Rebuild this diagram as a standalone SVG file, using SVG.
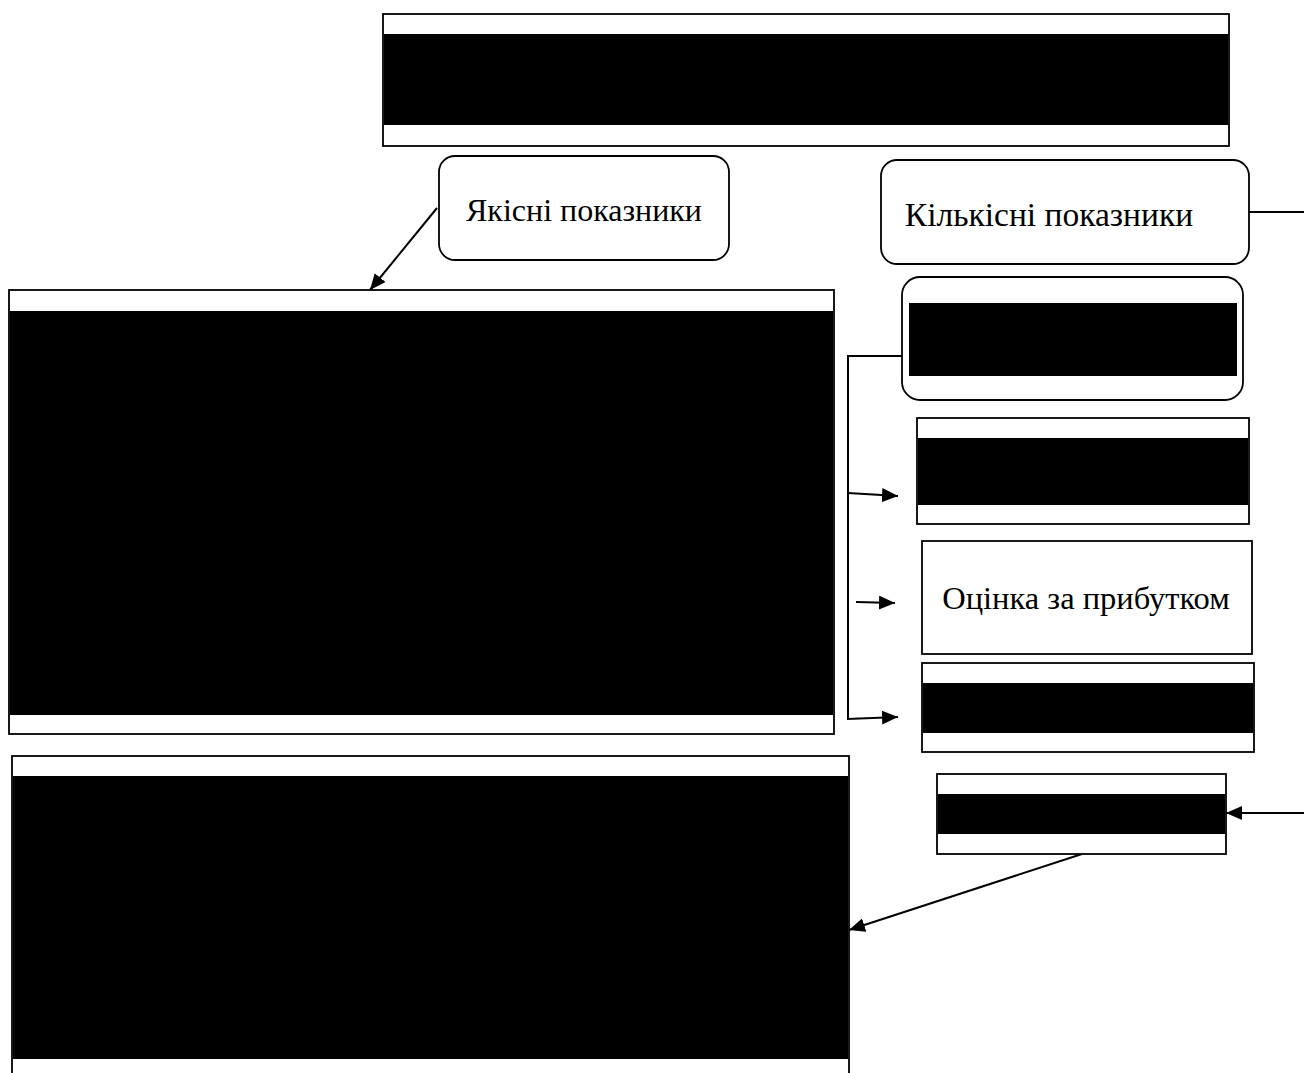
<svg xmlns="http://www.w3.org/2000/svg" width="1304" height="1073" viewBox="0 0 1304 1073">
<defs>
<marker id="ah2" viewBox="0 0 16 14" refX="16" refY="7" markerWidth="16" markerHeight="14" markerUnits="userSpaceOnUse" orient="auto"><path d="M0,0 L16,7 L0,14 z" fill="#000"/></marker>
</defs>
<style>
.box{fill:#fff;stroke:#000;stroke-width:1.8}
.bar{fill:#000}
.t{font-family:"Liberation Serif","Times New Roman",serif;font-size:32px;fill:#000;text-anchor:middle}
.ln{fill:none;stroke:#000;stroke-width:2}
</style>
<rect width="1304" height="1073" fill="#fff"/>
<g id="top"><rect class="box" x="383" y="14" width="846" height="132"/><rect class="bar" x="384" y="34" width="844" height="91"/></g>
<g id="qual"><rect class="box" x="439" y="156" width="290" height="104" rx="16"/><text class="t" x="584" y="221">Якісні показники</text></g>
<g id="quant"><rect class="box" x="881" y="160" width="368" height="104" rx="16"/><text class="t" x="1049" y="226" style="font-size:33.5px">Кількісні показники</text></g>
<g id="big1"><rect class="box" x="9" y="290" width="825" height="444"/><rect class="bar" x="10" y="311" width="823" height="404"/></g>
<g id="r2"><rect class="box" x="902" y="277" width="341" height="123" rx="18"/><rect class="bar" x="909" y="303" width="328" height="73"/></g>
<g id="r3"><rect class="box" x="917" y="418" width="332" height="106"/><rect class="bar" x="918" y="438" width="330" height="67"/></g>
<g id="profit"><rect class="box" x="922" y="541" width="330" height="113"/><text class="t" x="1086" y="609" style="font-size:32.5px">Оцінка за прибутком</text></g>
<g id="r5"><rect class="box" x="922" y="663" width="332" height="89"/><rect class="bar" x="923" y="683" width="330" height="50"/></g>
<g id="r6"><rect class="box" x="937" y="774" width="289" height="80"/><rect class="bar" x="938" y="794" width="287" height="40"/></g>
<g id="big2"><rect class="box" x="12" y="756" width="837" height="330"/><rect class="bar" x="13" y="776" width="835" height="283"/></g>
<g id="connectors">
<line class="ln" x1="437" y1="208" x2="370" y2="290" marker-end="url(#ah2)"/>
<line class="ln" x1="1249" y1="212" x2="1304" y2="212"/>
<polyline class="ln" points="902,356 848,356 848,719"/>
<line class="ln" x1="848" y1="493" x2="898" y2="496" marker-end="url(#ah2)"/>
<line class="ln" x1="856" y1="602" x2="895" y2="603" marker-end="url(#ah2)"/>
<line class="ln" x1="847" y1="719" x2="898" y2="717" marker-end="url(#ah2)"/>
<line class="ln" x1="1304" y1="813" x2="1226" y2="813" marker-end="url(#ah2)"/>
<line class="ln" x1="1082" y1="854" x2="849" y2="930" marker-end="url(#ah2)"/>
</g>
</svg>
